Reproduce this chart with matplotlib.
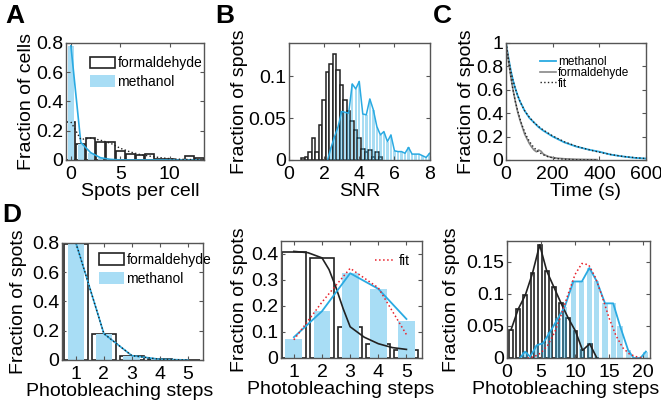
import numpy as np
import matplotlib.pyplot as plt

plt.rcParams['font.family'] = ['Liberation Sans', 'DejaVu Sans']

BLUE = '#2AAAE2'
LIGHT = '#A8DDF5'
RED = '#E8202A'
SPINE = '#555555'

# A: spots per cell
spots = [0, 1, 2, 3, 4, 5, 6, 7, 8, 9, 10, 11, 12, 13]
a_form = [0.262, 0.112, 0.153, 0.125, 0.125, 0.06, 0.04, 0.034, 0.038, 0.008, 0.006, 0.002, 0.03, 0.01]
a_meth = [0.78, 0.11, 0.045, 0.015, 0.005, 0, 0, 0, 0, 0, 0, 0, 0, 0]
a_meth_line = [0.78, 0.12, 0.05, 0.015, 0.004, 0, 0, 0, 0, 0, 0, 0, 0, 0]
a_fit = [0.26, 0.14, 0.15, 0.135, 0.115, 0.08, 0.055, 0.037, 0.026, 0.016, 0.009, 0.005, 0.003, 0.002]

# B: SNR histograms
snr_form_x = [0.8, 1.0, 1.2, 1.4, 1.6, 1.8, 2.0, 2.2, 2.4, 2.6, 2.8, 3.0, 3.2, 3.4, 3.6, 3.8,
              4.0, 4.2, 4.4, 4.6, 4.8, 5.0, 5.2]
snr_form = [0.002, 0.003, 0.01, 0.026, 0.009, 0.042, 0.072, 0.105, 0.115, 0.127, 0.108, 0.09,
            0.072, 0.058, 0.047, 0.036, 0.026, 0.013, 0.01, 0.012, 0.004, 0.01, 0.004]
snr_meth_x = [2.2, 2.4, 2.6, 2.8, 3.0, 3.2, 3.4, 3.6, 3.8, 4.0, 4.2, 4.4, 4.6, 4.8, 5.0, 5.2,
              5.4, 5.6, 5.8, 6.0, 6.2, 6.4, 6.6, 6.8, 7.0, 7.2, 7.4, 7.6, 7.8, 8.0]
snr_meth = [0.0, 0.015, 0.028, 0.04, 0.058, 0.057, 0.056, 0.091, 0.085, 0.094, 0.055, 0.054,
            0.073, 0.06, 0.04, 0.03, 0.034, 0.022, 0.03, 0.011, 0.01, 0.01, 0.008, 0.015,
            0.007, 0.007, 0.007, 0.005, 0.003, 0.008]

# C: survival curves
t_meth = [0, 10, 20, 30, 40, 50, 60, 80, 100, 120, 140, 160, 180, 200, 250, 300, 350, 400,
          450, 500, 550, 600]
c_meth = [1.0, 0.88, 0.77, 0.68, 0.61, 0.55, 0.50, 0.42, 0.36, 0.32, 0.28, 0.25, 0.225, 0.2,
          0.15, 0.115, 0.09, 0.07, 0.045, 0.03, 0.018, 0.012]
c_meth_fit = [1.0, 0.87, 0.765, 0.68, 0.61, 0.55, 0.5, 0.42, 0.365, 0.32, 0.285, 0.255, 0.23,
              0.205, 0.155, 0.118, 0.09, 0.066, 0.046, 0.03, 0.02, 0.012]
t_form = [0, 10, 20, 30, 40, 50, 60, 70, 80, 90, 100, 110, 120, 130, 140, 150, 160, 170, 180,
          200, 220, 250, 300, 350, 390]
c_form = [1.0, 0.86, 0.72, 0.6, 0.5, 0.41, 0.34, 0.28, 0.22, 0.18, 0.14, 0.11, 0.085, 0.07,
          0.085, 0.075, 0.05, 0.04, 0.03, 0.02, 0.015, 0.01, 0.006, 0.004, 0.003]
c_form_fit = [1.0, 0.85, 0.72, 0.6, 0.5, 0.42, 0.35, 0.29, 0.24, 0.195, 0.16, 0.13, 0.105,
              0.085, 0.068, 0.055, 0.044, 0.035, 0.028, 0.018, 0.011, 0.006, 0.002, 0.001, 0.0]

# D: photobleaching steps
steps5 = [1, 2, 3, 4, 5]
d_form = [0.795, 0.18, 0.03, 0.005, 0.001]
d_meth = [0.79, 0.175, 0.028, 0.004, 0.0]
d_line = [0.8, 0.18, 0.03, 0.005, 0.0]

# E
e_form = [0.406, 0.385, 0.119, 0.052, 0.032]
e_meth = [0.074, 0.179, 0.326, 0.266, 0.144]
e_meth_line = [0.08, 0.18, 0.326, 0.266, 0.15]
e_fit = [0.07, 0.215, 0.345, 0.27, 0.09]
e_form_fit_x = [1, 1.5, 2, 2.25, 2.5, 2.75, 3, 3.5, 4, 4.5, 5]
e_form_fit = [0.41, 0.405, 0.385, 0.34, 0.27, 0.19, 0.12, 0.08, 0.055, 0.04, 0.033]

# F
f_form_x = [0.6, 1.65, 2.7, 3.75, 4.8, 5.85, 6.9, 7.95, 9.0, 10.05, 11.1, 12.15, 13.2]
f_form = [0.044, 0.076, 0.098, 0.132, 0.176, 0.135, 0.11, 0.085, 0.062, 0.042, 0.012, 0.022, 0.0]
f_meth_x = [1.9, 2.65, 3.4, 4.4, 5.3, 6.3, 7.5, 8.5, 9.75, 11.0, 12.1, 13.2, 14.4, 15.6, 16.6,
            17.8, 18.6, 19.6, 20.4]
f_meth = [0.0, 0.01, 0.002, 0.02, 0.023, 0.04, 0.062, 0.08, 0.119, 0.119, 0.14, 0.119, 0.085,
          0.085, 0.05, 0.012, 0.0, 0.0, 0.01]
f_fit_x = [3, 4, 5, 6, 7, 8, 9, 10, 11, 12, 13, 14, 15, 16, 17, 18, 19, 20]
f_fit = [0.0, 0.002, 0.008, 0.02, 0.04, 0.068, 0.1, 0.13, 0.147, 0.145, 0.125, 0.095, 0.062,
         0.035, 0.016, 0.006, 0.002, 0.0]


def style(ax, xlab, ylab, xlab_x, ypad):
    for s in ax.spines.values():
        s.set_color(SPINE)
        s.set_linewidth(1.0)
    ax.tick_params(direction='in', top=True, right=True, length=3, width=0.8,
                   color=SPINE, labelsize=14, pad=2)
    ax.tick_params(axis='x', pad=4.5)
    ax.set_xlabel(xlab, fontsize=14, labelpad=0)
    ax.xaxis.label.set_x(xlab_x)
    ax.set_ylabel(ylab, fontsize=14, labelpad=ypad)


fig = plt.figure(figsize=(6.61, 4.07), dpi=100)

# ---- A
ax = fig.add_axes([0.0998, 0.607, 0.209, 0.2875])
ax.bar(spots, a_form, width=0.9, color='white', edgecolor='#222222', lw=1.2, label='formaldehyde')
ax.bar(spots, a_meth, width=0.6, color=LIGHT, lw=0, label='methanol')
ax.plot(spots, a_meth_line, color=BLUE, lw=1.2)
ax.plot(spots, a_fit, color='#222222', lw=1.0, ls=':')
ax.set_xlim(-0.5, 13.5)
ax.set_ylim(0, 0.8)
ax.set_xticks([0, 5, 10])
ax.set_yticks([0, 0.2, 0.4, 0.6, 0.8])
ax.set_yticklabels(['0', '0.2', '0.4', '0.6', '0.8'])
ax.legend(loc='upper left', bbox_to_anchor=(0.1, 0.97), frameon=False, fontsize=10,
          handlelength=1.8, handleheight=0.9, handletextpad=0.2, labelspacing=0.35,
          borderpad=0.2)
style(ax, 'Spots per cell', 'Fraction of cells', 0.54, 0.5)

# ---- B
ax = fig.add_axes([0.437, 0.607, 0.213, 0.2875])
ax.bar(snr_form_x, snr_form, width=0.2, color='white', edgecolor='#222222', lw=1.1)
ax.bar(snr_meth_x, snr_meth, width=0.14, color=BLUE, alpha=0.4, lw=0)
ax.plot(snr_meth_x, snr_meth, color=BLUE, lw=1.1)
ax.set_xlim(0, 8)
ax.set_ylim(0, 0.14)
ax.set_xticks([0, 2, 4, 6, 8])
ax.set_yticks([0, 0.05, 0.1])
ax.set_yticklabels(['0', '0.05', '0.1'])
style(ax, 'SNR', 'Fraction of spots', 0.5, 0.3)

# ---- C
ax = fig.add_axes([0.7655, 0.607, 0.212, 0.2875])
ax.plot(t_meth, c_meth, color=BLUE, lw=1.3, label='methanol')
ax.plot(t_form, c_form, color='#888888', lw=1.2, label='formaldehyde')
ax.plot(t_meth, c_meth_fit, color='#222222', lw=1.0, ls=':', label='fit')
ax.plot(t_form, c_form_fit, color='#222222', lw=1.0, ls=':')
ax.set_xlim(0, 600)
ax.set_ylim(0, 1)
ax.set_xticks([0, 200, 400, 600])
ax.set_yticks([0, 0.2, 0.4, 0.6, 0.8, 1])
ax.set_yticklabels(['0', '0.2', '0.4', '0.6', '0.8', '1'])
ax.legend(loc='upper left', bbox_to_anchor=(0.19, 0.95), frameon=False, fontsize=8.5,
          handlelength=1.4, handletextpad=0.15, labelspacing=-0.1, borderpad=0.1)
style(ax, 'Time (s)', 'Fraction of spots', 0.57, 0.8)

# ---- D
ax = fig.add_axes([0.0938, 0.1155, 0.2133, 0.2875])
ax.bar(steps5, d_form, width=0.85, color='white', edgecolor='#222222', lw=1.2, label='formaldehyde')
ax.bar(steps5, d_meth, width=0.6, color=LIGHT, lw=0, label='methanol')
ax.plot(steps5, d_line, color=BLUE, lw=1.2)
ax.plot(steps5, d_line, color='#222222', lw=1.0, ls=':')
ax.set_xlim(0.5, 5.55)
ax.set_ylim(0, 0.8)
ax.set_xticks(steps5)
ax.set_yticks([0, 0.2, 0.4, 0.6, 0.8])
ax.set_yticklabels(['0', '0.2', '0.4', '0.6', '0.8'])
ax.legend(loc='upper left', bbox_to_anchor=(0.19, 1.0), frameon=False, fontsize=10,
          handlelength=1.8, handleheight=0.9, handletextpad=0.2, labelspacing=0.35,
          borderpad=0.2)
style(ax, 'Photobleaching steps', 'Fraction of spots', 0.41, 3.5)

# ---- E
ax = fig.add_axes([0.425, 0.1204, 0.2133, 0.2875])
ax.bar(steps5, e_form, width=0.85, color='white', edgecolor='#222222', lw=1.2)
ax.bar(steps5, e_meth, width=0.6, color=LIGHT, lw=0)
ax.plot(e_form_fit_x, e_form_fit, color='#222222', lw=1.2)
ax.plot(steps5, e_meth_line, color=BLUE, lw=1.3)
ax.plot(steps5, e_fit, color=RED, lw=1.1, ls=':', label='fit')
ax.set_xlim(0.54, 5.55)
ax.set_ylim(0, 0.45)
ax.set_xticks(steps5)
ax.set_yticks([0, 0.1, 0.2, 0.3, 0.4])
ax.set_yticklabels(['0', '0.1', '0.2', '0.3', '0.4'])
ax.legend(loc='upper right', bbox_to_anchor=(0.98, 0.97), frameon=False, fontsize=10,
          handlelength=1.4, handletextpad=0.3, borderpad=0.2)
style(ax, 'Photobleaching steps', 'Fraction of spots', 0.42, 2)

# ---- F
ax = fig.add_axes([0.767, 0.1204, 0.2163, 0.2875])
ax.bar(f_form_x, f_form, width=0.55, color='white', edgecolor='#222222', lw=1.2)
ax.bar(f_meth_x, f_meth, width=0.75, color=BLUE, alpha=0.4, lw=0)
ax.plot(f_form_x, f_form, color='#222222', lw=1.2)
ax.plot(f_meth_x, f_meth, color=BLUE, lw=1.3)
ax.plot(f_fit_x, f_fit, color=RED, lw=1.1, ls=':')
ax.set_xlim(0, 21)
ax.set_ylim(0, 0.182)
ax.set_xticks([0, 5, 10, 15, 20])
ax.set_yticks([0, 0.05, 0.1, 0.15])
ax.set_yticklabels(['0', '0.05', '0.1', '0.15'])
style(ax, 'Photobleaching steps', 'Fraction of spots', 0.41, 4.5)

for lab, x, y in [('A', 0.008, 0.99), ('B', 0.325, 0.99), ('C', 0.655, 0.99), ('D', 0.003, 0.5)]:
    fig.text(x, y, lab, fontsize=19, fontweight='bold', va='top', ha='left')

fig.savefig('out.png', dpi=100)
